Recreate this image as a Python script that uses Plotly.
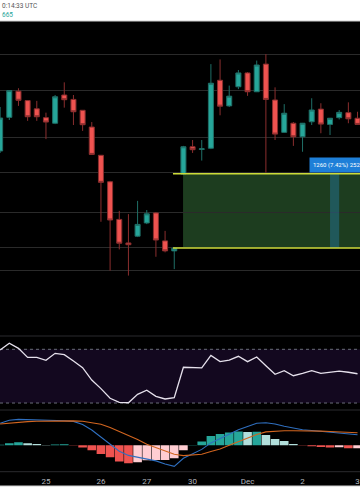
import plotly.graph_objects as go
from plotly.subplots import make_subplots

# ---------------- data (4h bars, CME BTC futures, Nov 24 - Dec 3 2020) ----------------
bar_index = list(range(40))
tick_bars = [5, 11, 16, 21, 27, 33, 39]
tick_labels = ["25", "26", "27", "30", "Dec", "2", "3"]

opens = [18633, 19205, 19650, 19490, 19350, 19200, 19105, 19585, 19510, 19325,
         19040, 18560, 18110, 17470, 17070, 17185, 17410, 17580, 17105, 16935,
         18240, 18705, 18660, 18680, 19835, 19400, 19725, 19960, 19640, 20110,
         19500, 18950, 19105, 18875, 19130, 19345, 19085, 19200, 19285, 19190]
highs = [19381, 19670, 19700, 19500, 19485, 19285, 19585, 19800, 19585, 19330,
         19125, 18565, 18125, 17615, 17560, 17785, 17630, 17595, 17275, 17000,
         18720, 18820, 18820, 20110, 20190, 19745, 20010, 19975, 20170, 20280,
         19715, 19430, 19125, 19110, 19530, 19445, 19195, 19330, 19460, 19300]
lows = [18599, 19160, 19400, 19145, 19145, 18835, 19090, 19370, 19075, 18975,
        18565, 17430, 16600, 16960, 16515, 17170, 17390, 16835, 16910, 16625,
        18225, 18600, 18470, 18665, 19240, 19380, 19685, 19570, 19635, 18265,
        18820, 18940, 18720, 18620, 19075, 18935, 18905, 19170, 19105, 19075]
closes = [19194, 19660, 19495, 19215, 19215, 19125, 19555, 19505, 19300, 19080,
          18575, 18100, 17460, 17065, 17040, 17385, 17565, 17120, 16935, 16980,
          18705, 18655, 18670, 19785, 19395, 19565, 19960, 19640, 20095, 19510,
          18920, 19275, 18875, 19105, 19330, 19090, 19190, 19290, 19180, 19085]

rsi = [69.5, 74.5, 70.7, 64.0, 64.0, 61.8, 67.0, 66.0, 61.3, 56.3,
       47.1, 40.7, 33.5, 30.5, 30.2, 36.5, 39.5, 35.0, 33.0, 34.0,
       56.6, 56.1, 56.1, 65.5, 60.8, 62.0, 64.8, 60.8, 64.3, 57.8,
       51.4, 54.1, 50.3, 52.1, 54.1, 52.1, 52.9, 53.8, 52.9, 51.8]

macd = [110, 125.5, 129.5, 128.5, 126, 124, 123, 123, 119.5, 103.5,
        76.5, 42.5, 4.5, -30, -50.5, -60.5, -68, -78, -93.5, -105,
        -65, -41.5, -20.5, 12, 35, 58, 78, 94, 110, 113,
        106.5, 95.5, 85.5, 78, 74, 70, 67.5, 64, 58.5, 52.5]
signal = [106.5, 111.5, 115.5, 118.5, 120.5, 121.5, 122.5, 123, 122, 120,
          113.5, 105.5, 88.5, 70, 49.5, 29.5, 5.5, -12.5, -30, -44.5,
          -51.5, -49.5, -45, -31, -19, 0.5, 19.5, 37.5, 54.5, 67,
          71, 73, 73, 73, 72, 71, 69, 67.5, 65.5, 62.5]
hist = [2.5, 10, 15, 10, 6.5, 1.5, 4, 5, -1, -11.5,
        -25, -43.5, -60, -81.5, -90, -85, -75, -73.5, -73.5, -65,
        -25, 1, 18.5, 46.5, 56.5, 63.5, 68.5, 66.5, 67.5, 51.5,
        31.5, 21.5, 6.5, -1.5, -5, -8.5, -11.5, -10, -15, -15]

price_grid = [20280, 19670, 18870, 18260, 17595, 16985, 16595]
range_low = 16985
range_high = 18245
range_label = "1260 (7.42%) 252"
rsi_upper, rsi_lower = 70, 30

# ---------------- colours ----------------
UP = "#26a69a"
DOWN = "#ef5350"
UP_WICK = "#1f6f67"
DOWN_WICK = "#8a2e2e"

hist_colors = []
for i, h in enumerate(hist):
    prev = hist[i - 1] if i > 0 else h
    if h >= 0:
        hist_colors.append("#26a69a" if h >= prev else "#b2dfdb")
    else:
        hist_colors.append("#ffcdd2" if h >= prev else "#ef5350")

# ---------------- figure ----------------
fig = make_subplots(rows=3, cols=1, shared_xaxes=True, vertical_spacing=0)

fig.add_trace(go.Candlestick(
    x=bar_index, open=opens, high=highs, low=lows, close=closes,
    increasing=dict(line=dict(color=UP_WICK, width=1), fillcolor=UP),
    decreasing=dict(line=dict(color=DOWN_WICK, width=1), fillcolor=DOWN),
    showlegend=False, hoverinfo="skip"), row=1, col=1)

fig.add_trace(go.Scatter(x=bar_index, y=rsi, mode="lines",
                         line=dict(color="#e6e1ec", width=1.3),
                         showlegend=False, hoverinfo="skip"), row=2, col=1)

fig.add_trace(go.Bar(x=bar_index, y=hist, marker=dict(color=hist_colors, line=dict(width=0)),
                     width=0.94, showlegend=False, hoverinfo="skip"), row=3, col=1)
fig.add_trace(go.Scatter(x=bar_index, y=macd, mode="lines",
                         line=dict(color="#2f6fbf", width=1.1),
                         showlegend=False, hoverinfo="skip"), row=3, col=1)
fig.add_trace(go.Scatter(x=bar_index, y=signal, mode="lines",
                         line=dict(color="#d2651f", width=1.1),
                         showlegend=False, hoverinfo="skip"), row=3, col=1)

H = 504.0
def py(px):
    return 1 - px / H

xr = [-0.015, 39.27]
for ax in ["xaxis", "xaxis2", "xaxis3"]:
    fig.layout[ax].update(range=xr, showgrid=False, zeroline=False, automargin=False,
                          rangeslider=dict(visible=False), showticklabels=False,
                          ticks="", showline=False)
fig.layout.xaxis3.update(showticklabels=True, tickmode="array", tickvals=tick_bars,
                         ticktext=tick_labels, tickfont=dict(size=8, color="#b2b5be", family="Roboto"),
                         ticklabelstandoff=3)

fig.layout.yaxis.update(domain=[py(336), py(21)], range=[15488, 20843], automargin=False,
                        tickmode="array", tickvals=price_grid, showticklabels=False,
                        gridcolor="#2a2a2a", gridwidth=1, zeroline=False)
fig.layout.yaxis2.update(domain=[py(410), py(336)], range=[24.8, 79.9], automargin=False,
                         showgrid=False, showticklabels=False, zeroline=False)
fig.layout.yaxis3.update(domain=[py(471.7), py(410)], range=[-132, 176.5], automargin=False,
                         showgrid=False, showticklabels=False, zeroline=False)

shapes = []
# black chart background across panes and time-axis row
shapes.append(dict(type="rect", xref="paper", yref="paper", x0=0, x1=1, y0=py(486), y1=py(21),
                   fillcolor="#000000", line=dict(width=0), layer="below"))
shapes.append(dict(type="line", xref="paper", yref="paper", x0=0, x1=1, y0=py(21), y1=py(21),
                   line=dict(color="#cfcfcf", width=1)))
# pane separators
for ypx in [336, 410, 471.7]:
    shapes.append(dict(type="line", xref="paper", yref="paper", x0=0, x1=1, y0=py(ypx), y1=py(ypx),
                       line=dict(color="#2a2a2e", width=1)))
shapes.append(dict(type="line", xref="paper", yref="paper", x0=0, x1=1, y0=py(486), y1=py(486),
                   line=dict(color="#d0d0d0", width=1)))
# price range box
shapes.append(dict(type="rect", xref="x", yref="y", x0=19.96, x1=39.27, y0=range_low, y1=range_high,
                   fillcolor="#1d3d1f", line=dict(width=0), layer="below"))
shapes.append(dict(type="rect", xref="x", yref="y", x0=36.0, x1=37.0, y0=range_low, y1=range_high,
                   fillcolor="rgba(41,140,200,0.35)", line=dict(width=0), layer="above"))
for yv in [range_low, range_high]:
    shapes.append(dict(type="line", xref="x", yref="y", x0=18.86, x1=39.27, y0=yv, y1=yv,
                       line=dict(color="#cddc39", width=1.5), layer="above"))
# RSI band
shapes.append(dict(type="rect", xref="paper", yref="y2", x0=0, x1=1, y0=rsi_lower, y1=rsi_upper,
                   fillcolor="#13081f", line=dict(width=0), layer="below"))
for yv in [rsi_upper, rsi_lower]:
    shapes.append(dict(type="line", xref="paper", yref="y2", x0=0, x1=1, y0=yv, y1=yv,
                       line=dict(color="#6a6d78", width=1, dash="dot"), layer="below"))

annotations = [
    dict(text="0:14:33 UTC", x=0, y=py(6.5), xref="paper", yref="paper", xanchor="left",
         yanchor="middle", showarrow=False, font=dict(size=6.5, color="#555555", family="Roboto")),
    dict(text="665", x=0, y=py(14.5), xref="paper", yref="paper", xanchor="left",
         yanchor="middle", showarrow=False, font=dict(size=6.5, color="#26a69a", family="Roboto")),
    dict(text=range_label, x=33.72, y=18395, xref="x", yref="y", xanchor="left", yanchor="middle",
         showarrow=False, bgcolor="#1e7fd8", borderpad=3,
         font=dict(size=6, color="#ffffff", family="Roboto")),
]

fig.update_layout(width=360, height=504, margin=dict(l=0, r=0, t=0, b=0, autoexpand=False),
                  paper_bgcolor="#ffffff", plot_bgcolor="#000000",
                  shapes=shapes, annotations=annotations, bargap=0.05, boxgap=0.22,
                  showlegend=False, hovermode=False)

fig.write_html("out.html", config={"displayModeBar": False, "staticPlot": True},
               post_script="document.body.style.margin='0';document.body.style.overflow='hidden';")
